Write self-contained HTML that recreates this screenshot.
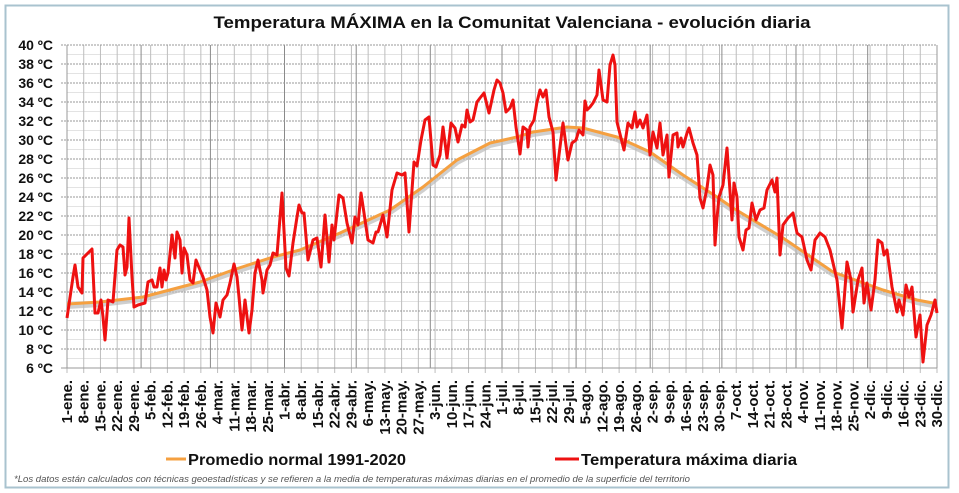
<!DOCTYPE html>
<html><head><meta charset="utf-8">
<style>
html,body{margin:0;padding:0;background:#fff;}
svg{display:block;}
text{font-family:"Liberation Sans",sans-serif;}
</style></head>
<body>
<svg id="s" width="959" height="493" viewBox="0 0 959 493" xmlns="http://www.w3.org/2000/svg">
<rect x="0" y="0" width="959" height="493" fill="#fff"/>
<rect x="5.5" y="5.5" width="943" height="482" fill="none" stroke="#a9c3cf" stroke-width="2"/>
<text x="512" y="28" text-anchor="middle" font-size="17" font-weight="bold" fill="#111" textLength="597" lengthAdjust="spacingAndGlyphs">Temperatura MÁXIMA en la Comunitat Valenciana - evolución diaria</text>
<g id="grid"></g>
<g id="ylab" font-size="14" font-weight="bold" fill="#111" text-anchor="end"></g>
<g id="xlab" font-size="15" font-weight="bold" fill="#111" text-anchor="end"></g>
<polyline fill="none" stroke="#bbb" stroke-width="6" opacity="0.7" stroke-linejoin="round" points="67,306 100,304 143,299 200,284 233,272 273,259 300,252 340,235 390,212 423,189 457,162 490,145 517,139 533,134 567,129 583,130 617,139 650,154 683,177 717,199 733,210 783,240 833,274 883,292 917,302 933,305"/>
<polyline fill="none" stroke="#f5a040" stroke-width="3" stroke-linejoin="round" points="67,304 100,302 143,297 200,282 233,270 273,257 300,250 340,233 390,210 423,187 457,160 490,143 517,137 533,132 567,127 583,128 617,137 650,152 683,175 717,197 733,208 783,238 833,272 883,290 917,300 933,303"/>
<polyline fill="none" stroke="#ee1111" stroke-width="3" stroke-linejoin="round" points="67,318 73,277 75,265 78,287 82,293 83,258 88,253 92,249 95,313 98,313 101,300 103,317 105,340 108,300 113,302 117,250 120,245 123,247 125,275 127,267 129,218 132,277 134,307 138,305 145,303 148,282 152,280 154,287 157,287 160,268 162,287 164,270 166,280 168,273 172,235 175,258 177,232 180,240 182,273 184,248 187,255 190,280 193,283 196,260 200,270 203,277 207,290 210,317 213,333 216,303 220,317 223,300 227,295 230,283 234,264 237,277 239,297 242,330 245,300 249,333 252,310 255,273 258,260 262,280 263,293 267,270 270,265 273,253 277,255 282,193 286,268 289,276 293,243 297,217 299,205 302,213 304,213 308,260 313,240 317,238 321,267 325,215 329,262 332,225 334,240 339,195 343,198 347,223 352,243 355,217 358,225 361,193 364,213 368,240 373,243 376,232 378,232 383,215 387,237 392,190 397,173 402,175 405,173 409,232 414,162 417,166 421,140 425,120 429,117 433,165 436,167 440,155 443,127 447,158 451,123 455,128 458,142 462,125 465,127 467,110 470,122 473,120 477,102 480,98 484,93 489,113 494,90 497,80 500,83 503,93 506,112 510,108 513,100 516,127 520,154 523,127 527,130 528,147 530,127 534,120 537,102 540,90 543,97 546,90 549,117 553,132 556,180 559,155 563,123 568,160 572,143 576,140 579,130 583,135 585,101 587,110 590,107 593,103 597,95 599,70 603,100 607,102 610,65 613,55 615,65 617,122 621,138 624,150 628,123 632,128 635,112 637,127 640,120 643,128 647,115 650,155 653,132 657,148 660,123 663,155 667,135 669,177 673,135 677,133 678,147 681,138 683,147 687,133 689,128 693,143 697,155 700,198 703,208 707,188 710,165 713,175 715,245 717,218 719,197 723,185 727,148 732,220 734,183 737,197 739,237 743,250 746,230 749,228 752,203 756,220 760,210 764,208 767,190 772,180 775,192 777,178 780,255 783,225 788,218 793,213 797,233 802,237 807,260 811,270 815,240 820,233 825,237 830,250 837,280 842,328 847,262 851,280 853,312 858,280 862,268 864,303 867,283 871,310 875,280 878,240 882,243 884,255 887,250 892,287 897,312 899,300 903,315 906,285 909,297 912,287 916,337 920,315 923,362 927,325 931,315 935,300 937,313"/>
<line x1="166" y1="459" x2="186" y2="459" stroke="#f5a040" stroke-width="3"/>
<text x="188" y="465" font-size="15.5" font-weight="bold" fill="#111" textLength="218" lengthAdjust="spacingAndGlyphs">Promedio normal 1991-2020</text>
<line x1="555" y1="459" x2="579" y2="459" stroke="#ee1111" stroke-width="3"/>
<text x="581" y="465" font-size="15.5" font-weight="bold" fill="#111" textLength="216" lengthAdjust="spacingAndGlyphs">Temperatura máxima diaria</text>
<text x="14" y="482" font-size="9" font-style="italic" fill="#555" textLength="676" lengthAdjust="spacingAndGlyphs">*Los datos están calculados con técnicas geoestadísticas y se refieren a la media de temperaturas máximas diarias en el promedio de la superficie del territorio</text>
</svg>
<script>
(function(){
var NS="http://www.w3.org/2000/svg";
function el(p,n,a,t){var e=document.createElementNS(NS,n);for(var k in a)e.setAttribute(k,a[k]);if(t)e.textContent=t;p.appendChild(e);return e;}
var g=document.getElementById('grid'),yl=document.getElementById('ylab'),xl=document.getElementById('xlab');
var x0=67,x1=937,ytop=45,ybot=368,ppc=9.5;
for(var t=7;t<40;t+=2){var y=ytop+(40-t)*ppc;el(g,'line',{x1:x0,x2:x1,y1:y,y2:y,stroke:'#e3e3e3','stroke-width':1});}
var months=[0,31,60,91,121,152,182,213,244,274,305,335,366];
var mon=['ene.','feb.','mar.','abr.','may.','jun.','jul.','ago.','sep.','oct.','nov.','dic.'];
var dpx=(x1-x0)/364;
for(var d=0;d<=364;d+=7){var x=x0+d*dpx;el(g,'line',{x1:x,x2:x,y1:ytop,y2:ybot+5,stroke:'#bdbdbd','stroke-width':1});}
for(var i=1;i<12;i++){var x=x0+months[i]*dpx;el(g,'line',{x1:x,x2:x,y1:ytop,y2:ybot,stroke:'#8a8a8a','stroke-width':1});}
el(g,'line',{x1:x1,x2:x1,y1:ytop,y2:ybot,stroke:'#999','stroke-width':1});
for(var t=6;t<=40;t+=2){var y=ytop+(40-t)*ppc;el(g,'line',{x1:x0-6,x2:x1,y1:y,y2:y,stroke:'#999','stroke-width':1,'stroke-dasharray':(t==6?'':'2,1')});
el(yl,'text',{x:53,y:y+5},t+' ºC');}
el(g,'line',{x1:x0,x2:x0,y1:ytop,y2:ybot,stroke:'#999','stroke-width':1});
for(var d=0;d<=364;d+=7){var x=x0+d*dpx;var m=0;while(m<11&&d>=months[m+1])m++;var day=d-months[m]+1;
el(xl,'text',{transform:'translate('+(x+5)+',380) rotate(-90)'},day+'-'+mon[m]);}
})();
</script>
</body></html>
